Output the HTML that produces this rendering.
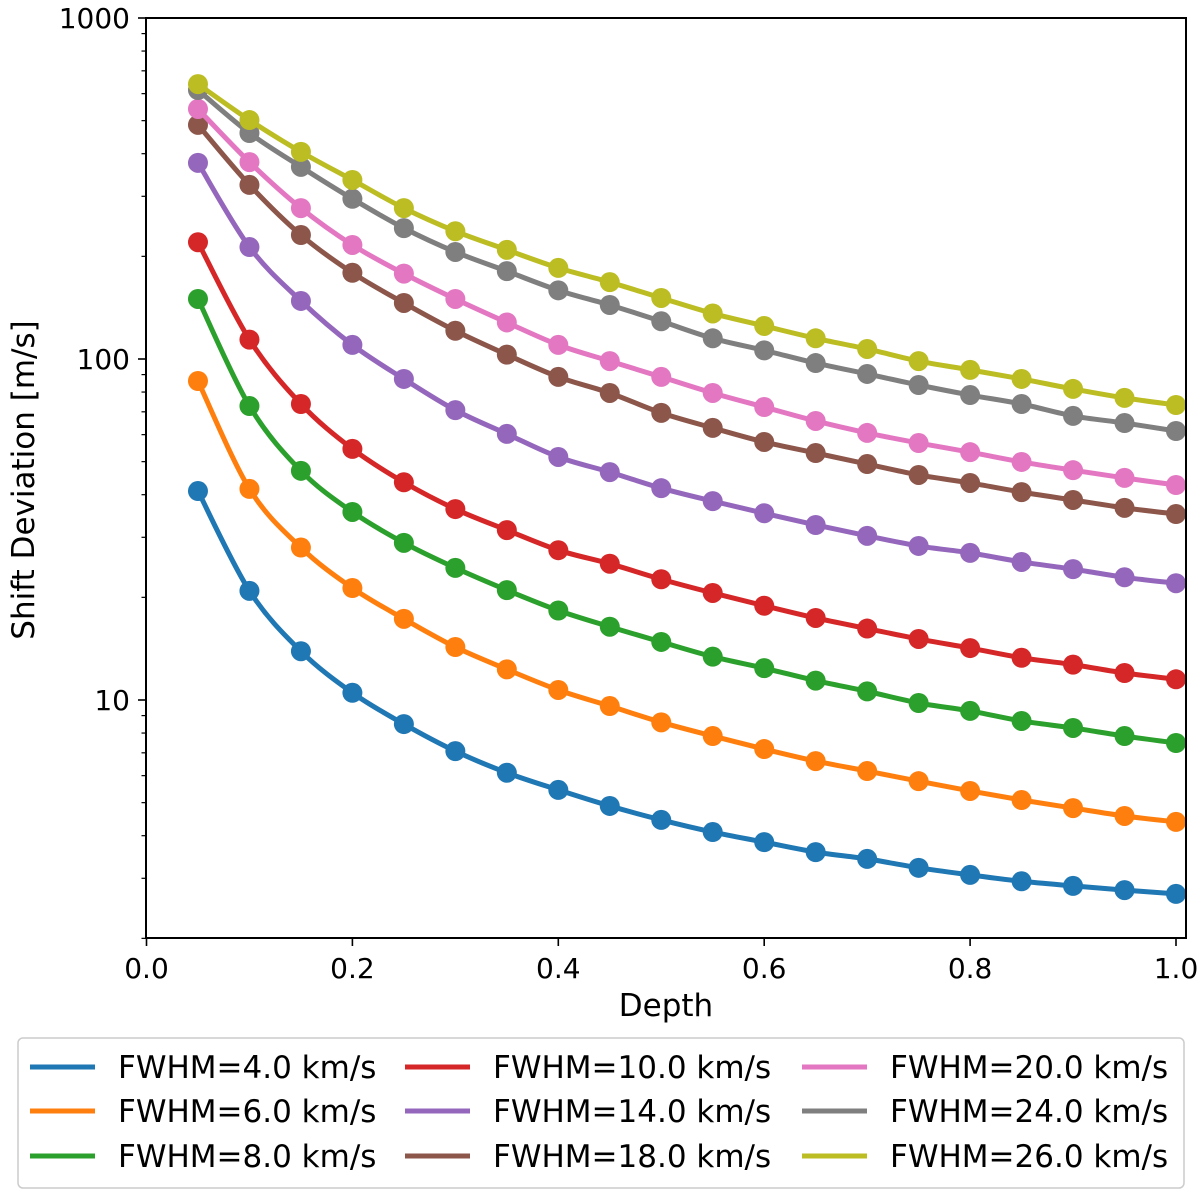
<!DOCTYPE html>
<html><head><meta charset="utf-8"><style>
body{margin:0;background:#fff;}
svg{display:block;font-family:"DejaVu Sans","Liberation Sans",sans-serif;}
</style></head><body>
<svg id="chart" width="1200" height="1197"></svg>
<script>
const depths=[0.05,0.10,0.15,0.20,0.25,0.30,0.35,0.40,0.45,0.50,0.55,0.60,0.65,0.70,0.75,0.80,0.85,0.90,0.95,1.00];
const seriesNames=["FWHM=4.0 km/s","FWHM=6.0 km/s","FWHM=8.0 km/s","FWHM=10.0 km/s","FWHM=14.0 km/s","FWHM=18.0 km/s","FWHM=20.0 km/s","FWHM=24.0 km/s","FWHM=26.0 km/s"];
const seriesColors=["#1f77b4","#ff7f0e","#2ca02c","#d62728","#9467bd","#8c564b","#e377c2","#7f7f7f","#bcbd22"];
const fwhm4=[41.0,20.9,13.9,10.5,8.5,7.08,6.12,5.45,4.89,4.45,4.10,3.83,3.58,3.42,3.22,3.07,2.94,2.85,2.77,2.70];
const fwhm6=[86.2,41.6,28.0,21.3,17.3,14.3,12.3,10.7,9.6,8.6,7.84,7.18,6.62,6.19,5.78,5.41,5.09,4.82,4.57,4.39];
const fwhm8=[150,72.8,47.0,35.6,28.9,24.4,21.0,18.3,16.4,14.8,13.4,12.4,11.4,10.6,9.8,9.29,8.68,8.28,7.84,7.48];
const fwhm10=[220,114,73.8,54.5,43.5,36.3,31.5,27.5,25.1,22.6,20.6,18.9,17.4,16.2,15.1,14.2,13.3,12.7,12.0,11.5];
const fwhm14=[376,213,148,110,87.4,70.8,60.3,51.6,46.6,41.8,38.3,35.3,32.6,30.3,28.3,27.0,25.4,24.2,22.9,22.0];
const fwhm18=[486,324,231,179,146,121,103,88.6,79.5,69.5,62.8,57.1,53.0,49.2,45.7,43.3,40.7,38.6,36.6,35.1];
const fwhm20=[541,378,277,216,178,150,128,110,98.6,88.6,79.5,72.3,65.8,60.7,56.7,53.3,49.9,47.2,44.8,42.7];
const fwhm24=[615,460,366,295,242,206,181,159,144,129,115,106,97.3,90.4,83.9,78.4,73.8,68.1,64.9,61.5];
const fwhm26=[640,502,405,335,277,237,209,185,168,151,136,125,115,107,98.6,92.9,87.4,81.7,76.9,73.3];
const allSeries=[fwhm4,fwhm6,fwhm8,fwhm10,fwhm14,fwhm18,fwhm20,fwhm24,fwhm26];
const xTicks=[0.0,0.2,0.4,0.6,0.8,1.0];
const yTicks=[10,100,1000];

const NS="http://www.w3.org/2000/svg";
const svg=document.getElementById('chart');
const L=146,R=1186,T=18,B=938;
const ymin=Math.log10(2),ymax=3;
function X(v){return 146.5+v*1029.5;}
function Y(v){return T+(ymax-Math.log10(v))*341;}
function mk(tag,attrs,parent){const e=document.createElementNS(NS,tag);for(const k in attrs)e.setAttribute(k,attrs[k]);(parent||svg).appendChild(e);return e;}

allSeries.forEach((vals,si)=>{
  const g=mk('g',{});
  
  
  const pts=vals.map((v,i)=>[X(depths[i]),Y(v)]);
  let d='M'+pts[0][0]+','+pts[0][1];
  for(let i=0;i<pts.length-1;i++){
    const p0=pts[Math.max(0,i-1)],p1=pts[i],p2=pts[i+1],p3=pts[Math.min(pts.length-1,i+2)];
    const c1x=p1[0]+(p2[0]-p0[0])/6,c1y=p1[1]+(p2[1]-p0[1])/6;
    const c2x=p2[0]-(p3[0]-p1[0])/6,c2y=p2[1]-(p3[1]-p1[1])/6;
    d+=' C'+c1x+','+c1y+' '+c2x+','+c2y+' '+p2[0]+','+p2[1];
  }
  const path=mk('path',{d:d,fill:'none',stroke:seriesColors[si],'stroke-width':5,'stroke-linejoin':'round'},g);
  
  
  pts.forEach(p=>{
    const c=mk('circle',{cx:p[0],cy:p[1],r:10,fill:seriesColors[si]},g);
    
    
  });
});

const frame=mk('rect',{x:L,y:T,width:R-L,height:B-T,fill:'none',stroke:'#000','stroke-width':2});



xTicks.forEach(v=>{
  const x=X(v);
  mk('line',{x1:x,y1:B,x2:x,y2:B+8,stroke:'#000','stroke-width':1.6});
  const t=mk('text',{x:x,y:B+40,'text-anchor':'middle','font-size':28,fill:'#000'});
  t.textContent=v.toFixed(1);
  
  
});
yTicks.forEach(v=>{
  const y=Y(v);
  mk('line',{x1:L-8,y1:y,x2:L,y2:y,stroke:'#000','stroke-width':1.6});
  const t=mk('text',{x:L-16,y:y+10,'text-anchor':'end','font-size':28,fill:'#000'});
  t.textContent=String(v);
  
  
});
for(let dec=0;dec<3;dec++){for(let m=2;m<=9;m++){const v=m*Math.pow(10,dec);if(Math.log10(v)<ymin-1e-9||v>=1000)continue;const y=Y(v);mk('line',{x1:L-4.5,y1:y,x2:L,y2:y,stroke:'#000','stroke-width':1.2});}}

const xl=mk('text',{x:666,y:1016,'text-anchor':'middle','font-size':31,fill:'#000'});
xl.textContent='Depth';


const yl=mk('text',{x:0,y:0,'text-anchor':'middle','font-size':31,fill:'#000',transform:'translate(34,480) rotate(-90)'});
yl.textContent='Shift Deviation [m/s]';



const lg=mk('g',{});


mk('rect',{x:18,y:1038,width:1166,height:150,rx:5,fill:'#fff',stroke:'#ccc','stroke-width':1.5},lg);
const colX=[30,405,802],rowY=[1067,1111,1156];
seriesNames.forEach((n,i)=>{
  const c=Math.floor(i/3),r=i%3;
  const e=mk('g',{},lg);
  
  
  mk('line',{x1:colX[c],y1:rowY[r],x2:colX[c]+65,y2:rowY[r],stroke:seriesColors[i],'stroke-width':5},e);
  const t=mk('text',{x:colX[c]+88,y:rowY[r]+11,'font-size':31,fill:'#000'},e);
  t.textContent=n;
});
</script>
</body></html>
